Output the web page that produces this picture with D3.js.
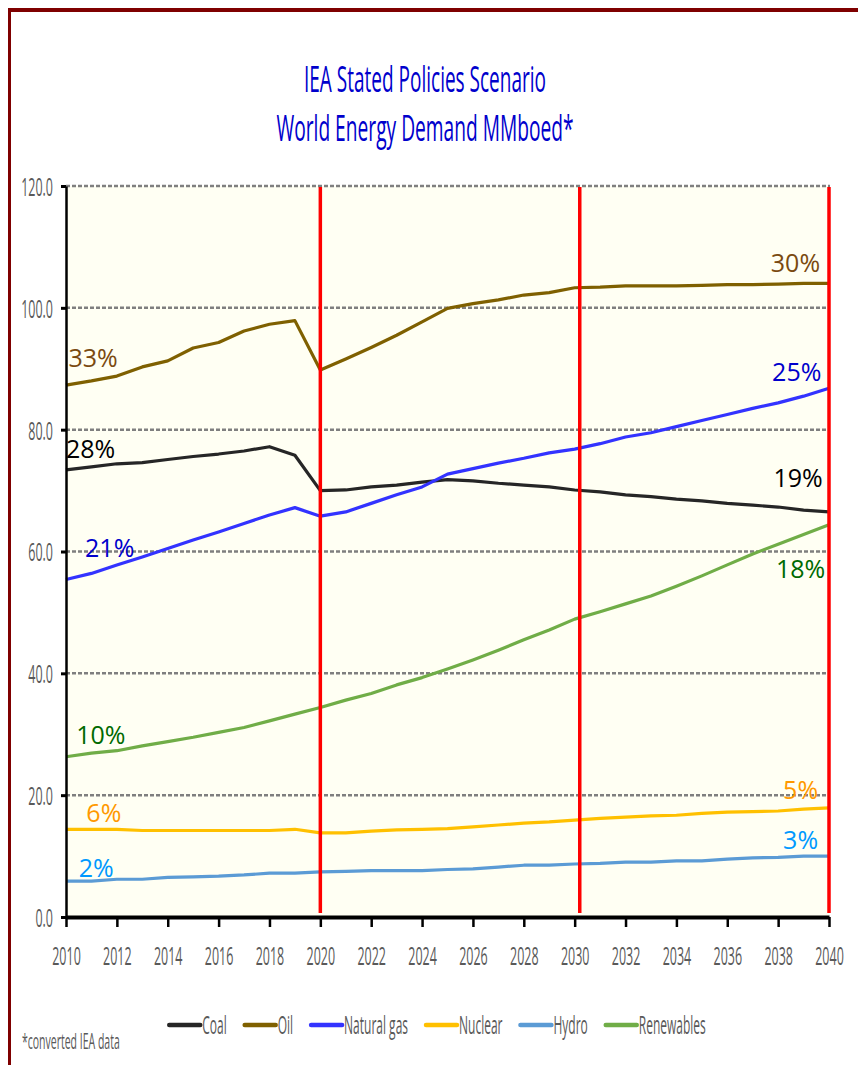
<!DOCTYPE html>
<html>
<head>
<meta charset="utf-8">
<script src="https://cdn.jsdelivr.net/npm/d3@7"></script>
<style>
  html, body { margin: 0; padding: 0; background: #fff; }
  svg { display: block; }
  text { font-family: "Open Sans", "Noto Sans", sans-serif; }
</style>
</head>
<body>
<div id="chart"></div>
<script>
// ---------------- data ----------------
const years = [2010,2011,2012,2013,2014,2015,2016,2017,2018,2019,2020,2021,2022,2023,2024,2025,2026,2027,2028,2029,2030,2031,2032,2033,2034,2035,2036,2037,2038,2039,2040];
const coal       = [73.4,73.9,74.4,74.6,75.1,75.6,76.0,76.5,77.2,75.8,70.0,70.1,70.6,70.9,71.4,71.8,71.6,71.2,70.9,70.6,70.1,69.8,69.3,69.0,68.6,68.3,67.9,67.6,67.3,66.8,66.5];
const oil        = [87.3,88.0,88.8,90.3,91.3,93.4,94.3,96.2,97.3,97.9,89.8,91.6,93.5,95.5,97.7,99.9,100.7,101.3,102.1,102.5,103.3,103.4,103.6,103.6,103.6,103.7,103.8,103.8,103.9,104.0,104.0];
const naturalGas = [55.4,56.4,57.8,59.1,60.5,61.9,63.2,64.6,66.0,67.2,65.8,66.5,67.9,69.3,70.6,72.7,73.6,74.5,75.3,76.2,76.8,77.7,78.8,79.5,80.5,81.5,82.5,83.5,84.4,85.5,86.8];
const nuclear    = [14.4,14.4,14.4,14.2,14.2,14.2,14.2,14.2,14.2,14.4,13.8,13.8,14.1,14.3,14.4,14.5,14.8,15.1,15.4,15.6,15.9,16.2,16.4,16.6,16.7,17.0,17.2,17.3,17.4,17.7,17.9];
const hydro      = [5.9,5.9,6.2,6.2,6.5,6.6,6.7,6.9,7.2,7.2,7.4,7.5,7.6,7.6,7.6,7.8,7.9,8.2,8.5,8.5,8.7,8.8,9.0,9.0,9.2,9.2,9.5,9.7,9.8,10.0,10.0];
const renewables = [26.3,26.9,27.3,28.1,28.8,29.5,30.3,31.1,32.2,33.3,34.4,35.6,36.7,38.1,39.3,40.7,42.2,43.8,45.5,47.1,48.9,50.1,51.4,52.7,54.3,56.0,57.8,59.6,61.2,62.8,64.4];

const seriesNames  = ["Coal","Oil","Natural gas","Nuclear","Hydro","Renewables"];
const seriesValues = [coal, oil, naturalGas, nuclear, hydro, renewables];
const seriesColors = ["#262626","#7F6000","#3333FF","#FFC000","#5B9BD5","#70AD47"];

const yTicks = [0,20,40,60,80,100,120];
const xTicks = [2010,2012,2014,2016,2018,2020,2022,2024,2026,2028,2030,2032,2034,2036,2038,2040];
const markerYears = [2020, 2030.2, 2040];

// share annotations (year, value at text baseline)
const leftLabels = [
  {text:"33%", year:2010.1,  value:90.3, color:"#7A4A10"},
  {text:"28%", year:2010.0,  value:75.3, color:"#000000"},
  {text:"21%", year:2010.75, value:59.1, color:"#0000CC"},
  {text:"10%", year:2010.4,  value:28.4, color:"#006A00"},
  {text:"6%",  year:2010.8,  value:15.6, color:"#FF9900"},
  {text:"2%",  year:2010.5,  value:6.6,  color:"#0099FF"}
];
const rightLabels = [
  {text:"30%", year:2039.65, value:105.9, color:"#7A4A10"},
  {text:"25%", year:2039.7,  value:88.0,  color:"#0000CC"},
  {text:"19%", year:2039.75, value:70.6,  color:"#000000"},
  {text:"18%", year:2039.85, value:55.6,  color:"#006A00"},
  {text:"5%",  year:2039.57, value:19.4,  color:"#FF9900"},
  {text:"3%",  year:2039.57, value:11.2,  color:"#0099FF"}
];
const titleLines = ["IEA Stated Policies Scenario", "World Energy Demand MMboed*"];
const footnote = "*converted IEA data";

// ---------------- layout ----------------
const W = 858, H = 1065;
const svg = d3.select("#chart").append("svg").attr("width", W).attr("height", H);
const x = d3.scaleLinear().domain([2010, 2040]).range([66, 829]);
const y = d3.scaleLinear().domain([0, 120]).range([917, 186]);
const SX = 0.48; // horizontal squeeze of the narrow font

// frame
svg.append("rect").attr("x", 8).attr("y", 8).attr("width", W - 8).attr("height", 4).attr("fill", "#7F0000");
svg.append("rect").attr("x", 8).attr("y", 8).attr("width", 3).attr("height", H - 8).attr("fill", "#7F0000");

// title
const titleY = [92, 141];
const titleW = [242, 297];
titleLines.forEach((t, i) => {
  svg.append("text")
    .attr("x", 425).attr("y", titleY[i])
    .attr("text-anchor", "middle")
    .attr("font-size", 37)
    .attr("fill", "#0000CC")
    .attr("textLength", titleW[i])
    .attr("lengthAdjust", "spacingAndGlyphs")
    .text(t);
});

// plot background
svg.append("rect")
  .attr("x", x(2010)).attr("y", y(120))
  .attr("width", x(2040) - x(2010)).attr("height", y(0) - y(120))
  .attr("fill", "#FFFFF3");

// gridlines
svg.append("g").selectAll("line").data(yTicks.filter(d => d > 0)).join("line")
  .attr("x1", x(2010)).attr("x2", x(2040) + 1)
  .attr("y1", d => y(d)).attr("y2", d => y(d))
  .attr("stroke", "#7F7F7F").attr("stroke-width", 2.5)
  .attr("stroke-dasharray", "4,2");

// series
const line = d3.line().x((d, i) => x(years[i])).y(d => y(d));
svg.append("g").selectAll("path").data(seriesValues).join("path")
  .attr("d", d => line(d))
  .attr("fill", "none")
  .attr("stroke", (d, i) => seriesColors[i])
  .attr("stroke-width", 3.2)
  .attr("stroke-linejoin", "round");

// red vertical markers
svg.append("g").selectAll("line").data(markerYears).join("line")
  .attr("x1", d => x(d)).attr("x2", d => x(d))
  .attr("y1", y(120) + 1).attr("y2", y(0) - 4)
  .attr("stroke", "#FF0000").attr("stroke-width", 3.5);

// axes
const yAxis = svg.append("g").attr("transform", `translate(${x(2010)},0)`)
  .call(d3.axisLeft(y).tickValues(yTicks).tickFormat(d3.format(".1f")).tickSize(5).tickSizeOuter(0));
yAxis.select(".domain").attr("stroke", "#000").attr("stroke-width", 2.5);
yAxis.selectAll(".tick line").attr("stroke", "#000").attr("stroke-width", 3);
yAxis.selectAll(".tick text")
  .attr("x", null).attr("dy", "0.36em")
  .attr("transform", `translate(-13,0) scale(${SX},1)`)
  .attr("font-size", 26).attr("fill", "#595959")
  .attr("font-family", "Open Sans");

const xAxis = svg.append("g").attr("transform", `translate(0,${y(0)})`)
  .call(d3.axisBottom(x).tickValues(xTicks).tickFormat(d3.format("d")).tickSize(10).tickSizeOuter(0));
xAxis.select(".domain").attr("stroke", "#000").attr("stroke-width", 4);
xAxis.selectAll(".tick line").attr("stroke", "#000").attr("stroke-width", 2.5);
xAxis.selectAll(".tick text")
  .attr("y", null).attr("dy", null)
  .attr("transform", `translate(0,48) scale(${SX},1)`)
  .attr("font-size", 26).attr("fill", "#595959")
  .attr("font-family", "Open Sans");

// share labels
svg.append("g").selectAll("text").data(leftLabels).join("text")
  .attr("x", d => x(d.year)).attr("y", d => y(d.value))
  .attr("font-size", 25).attr("fill", d => d.color)
  .text(d => d.text);
svg.append("g").selectAll("text").data(rightLabels).join("text")
  .attr("x", d => x(d.year)).attr("y", d => y(d.value))
  .attr("text-anchor", "end")
  .attr("font-size", 25).attr("fill", d => d.color)
  .text(d => d.text);

// legend
const legend = svg.append("g");
let cursor = 0;
seriesNames.forEach((name, i) => {
  const g = legend.append("g").attr("transform", `translate(${cursor},0)`);
  g.append("line").attr("x1", 0).attr("x2", 31).attr("y1", 0).attr("y2", 0)
    .attr("stroke", seriesColors[i]).attr("stroke-width", 4.5).attr("stroke-linecap", "round");
  const t = g.append("text")
    .attr("transform", `translate(33,9) scale(${SX},1)`)
    .attr("font-size", 25).attr("fill", "#595959")
    .text(name);
  const w = t.node().getComputedTextLength() * SX;
  cursor += 33 + w + 18;
});
const legendW = cursor - 18;
legend.attr("transform", `translate(${437.5 - legendW / 2},1025)`);

// footnote
svg.append("text")
  .attr("transform", `translate(22,1049) scale(0.5,1)`)
  .attr("font-size", 21).attr("fill", "#595959")
  .text(footnote);
</script>
</body>
</html>
